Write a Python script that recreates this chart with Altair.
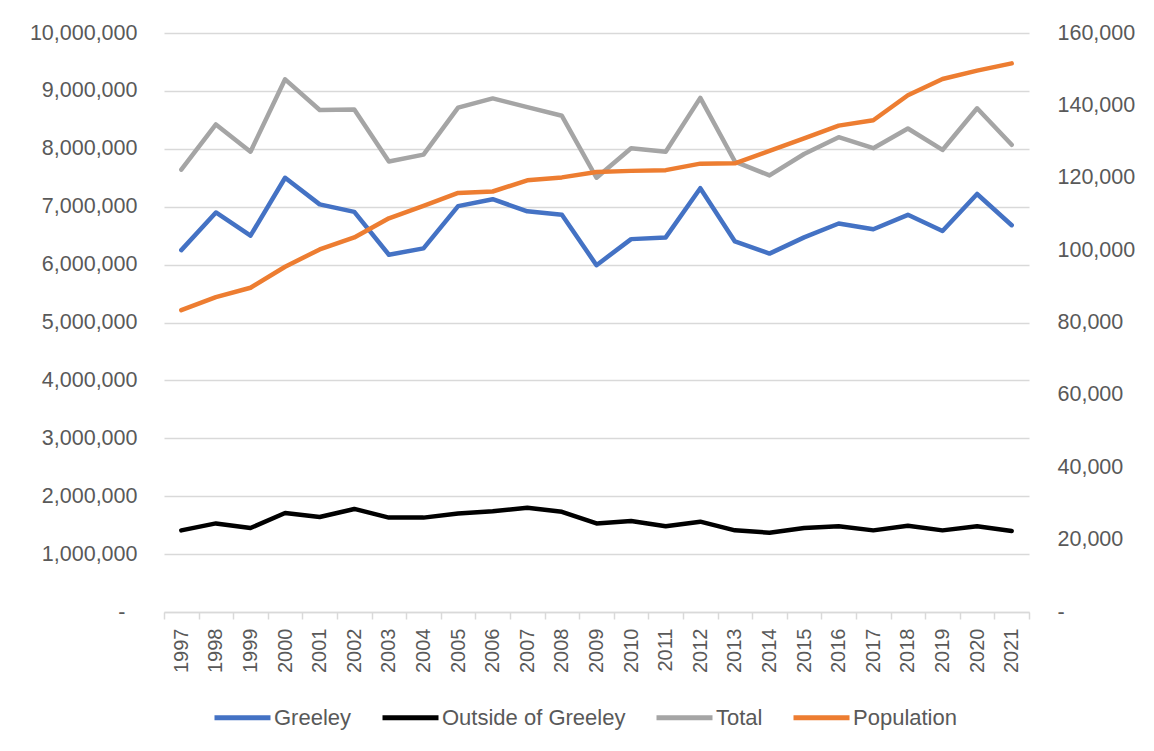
import altair as alt
import pandas as pd

years = [str(y) for y in range(1997, 2022)]
greeley = [6250000, 6900000, 6500000, 7500000, 7040000, 6910000, 6170000, 6280000, 7010000, 7130000,
           6920000, 6860000, 5990000, 6440000, 6470000, 7320000, 6400000, 6190000, 6470000, 6710000,
           6610000, 6860000, 6580000, 7220000, 6680000]
outside = [1410000, 1530000, 1450000, 1710000, 1640000, 1780000, 1630000, 1630000, 1700000, 1740000,
           1800000, 1730000, 1530000, 1570000, 1480000, 1560000, 1410000, 1370000, 1450000, 1480000,
           1410000, 1490000, 1410000, 1480000, 1400000]
total = [7640000, 8420000, 7950000, 9200000, 8670000, 8680000, 7780000, 7900000, 8710000, 8870000,
         8720000, 8570000, 7500000, 8010000, 7950000, 8880000, 7780000, 7540000, 7910000, 8200000,
         8010000, 8350000, 7980000, 8700000, 8070000]
population = [83400, 87000, 89600, 95400, 100200, 103500, 108800, 112200, 115800, 116200,
              119300, 120100, 121600, 121900, 122100, 123900, 124000, 127400, 130900, 134400,
              135900, 142800, 147300, 149600, 151600]

series_names = ["Greeley", "Outside of Greeley", "Total", "Population"]
series_colors = ["#4472C4", "#000000", "#A5A5A5", "#ED7D31"]
left_ticks = list(range(0, 10000001, 1000000))
right_ticks = list(range(0, 160001, 20000))

left_df = pd.concat([
    pd.DataFrame({"year": years, "value": greeley, "series": "Greeley", "ord": 0}),
    pd.DataFrame({"year": years, "value": outside, "series": "Outside of Greeley", "ord": 1}),
    pd.DataFrame({"year": years, "value": total, "series": "Total", "ord": 2}),
])
right_df = pd.DataFrame({"year": years, "value": population, "series": "Population", "ord": 3})

FONT = "Liberation Sans"
LABEL_COLOR = "#595959"
GRID = "#D9D9D9"

x_enc = alt.X(
    "year:O",
    scale=alt.Scale(type="band", paddingInner=0, paddingOuter=0),
    bandPosition=0.5,
    sort=years,
    axis=alt.Axis(
        title=None, labelAngle=-90, tickBand="extent", ticks=True, tickSize=7,
        tickColor=GRID, domainColor=GRID, domainWidth=1.5, tickWidth=1.5,
        labelPadding=9, labelFontSize=20, labelColor=LABEL_COLOR, labelFont=FONT,
        grid=False,
    ),
)

color_enc = alt.Color(
    "series:N",
    scale=alt.Scale(domain=series_names, range=series_colors),
    legend=alt.Legend(
        title=None, orient="none", legendX=48, legendY=654, direction="horizontal",
        columns=4, symbolType="stroke", symbolSize=3136, symbolStrokeWidth=5,
        labelFontSize=22, labelFont=FONT, labelColor=LABEL_COLOR, labelOffset=1,
        labelLimit=400, columnPadding=20, padding=0,
    ),
)

left = alt.Chart(left_df).mark_line(strokeWidth=4.5, strokeCap="round", strokeJoin="round").encode(
    x=x_enc,
    y=alt.Y(
        "value:Q",
        scale=alt.Scale(domain=[0, 10000000], nice=False),
        axis=alt.Axis(
            title=None, values=left_ticks, orient="left", grid=True, gridColor=GRID, gridWidth=1.5,
            ticks=False, domain=False,
            labelPadding={"condition": {"test": "datum.value == 0", "value": 39}, "value": 27},
            labelFontSize=21.5, labelFont=FONT, labelColor=LABEL_COLOR,
            labelExpr="datum.value == 0 ? '-' : format(datum.value, ',')",
        ),
    ),
    color=color_enc,
    order=alt.Order("ord:Q"),
)

right = alt.Chart(right_df).mark_line(strokeWidth=4.5, strokeCap="round", strokeJoin="round").encode(
    x=x_enc,
    y=alt.Y(
        "value:Q",
        scale=alt.Scale(domain=[0, 160000], nice=False),
        axis=alt.Axis(
            title=None, values=right_ticks, orient="right", grid=False,
            ticks=False, domain=False, labelPadding=28, labelFontSize=21.5, labelFont=FONT,
            labelColor=LABEL_COLOR,
            labelExpr="datum.value == 0 ? '-' : format(datum.value, ',')",
        ),
    ),
    color=color_enc,
)

chart = alt.layer(left, right).resolve_scale(y="independent").properties(
    width=865, height=579,
    autosize=alt.AutoSizeParams(type="none"),
    padding={"left": 156, "top": 25, "right": 117, "bottom": 131},
    background="white",
).configure_view(stroke=None)

chart.save("out.html", embed_options={"renderer": "svg", "actions": False})
